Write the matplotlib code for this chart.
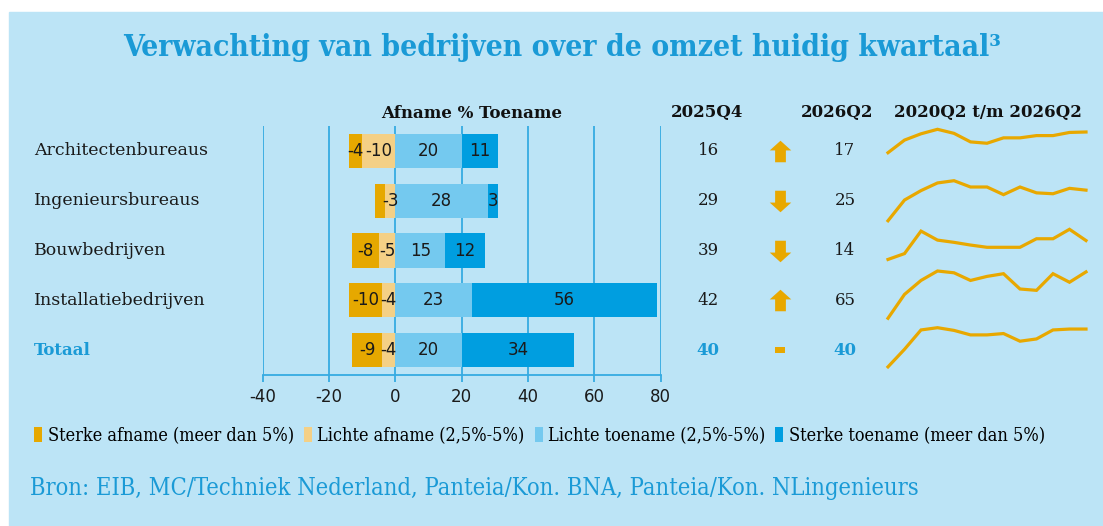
import numpy as np
import matplotlib
matplotlib.use('Agg')
import matplotlib.pyplot as plt
from matplotlib.patches import Rectangle, Patch
from matplotlib.path import Path
import matplotlib.transforms as mtransforms

plt.rcParams['axes.unicode_minus'] = False

# data
categories = ['Architectenbureaus', 'Ingenieursbureaus', 'Bouwbedrijven',
              'Installatiebedrijven', 'Totaal']
sterke_afname = [-4, -3, -8, -10, -9]
lichte_afname = [-10, -3, -5, -4, -4]
lichte_toename = [20, 28, 15, 23, 20]
sterke_toename = [11, 3, 12, 56, 34]
saldo_2025q4 = [16, 29, 39, 42, 40]
saldo_2026q2 = [17, 25, 14, 65, 40]
# balances 2020Q2 .. 2026Q2 (half-yearly)
spark = [
    [-29, -1, 13, 23, 14, -5, -8, 4, 4, 9, 9, 16, 17],
    [-43, 3, 24, 41, 46, 32, 32, 15, 32, 19, 17, 29, 25],
    [-28, -15, 35, 15, 10, 4, -1, -1, -1, 18, 18, 39, 14],
    [-38, 15, 46, 67, 63, 46, 55, 61, 27, 24, 61, 42, 65],
    [-44, -5, 38, 43, 37, 27, 27, 30, 13, 18, 38, 40, 40],
]
hidden_labels = {('sterke_afname', 1)}
xticks = [-40, -20, 0, 20, 40, 60, 80]
legend_labels = ['Sterke afname (meer dan 5%)', 'Lichte afname (2,5%-5%)',
                 'Lichte toename (2,5%-5%)', 'Sterke toename (meer dan 5%)']

# style
BG = '#bce4f6'
BLUE = '#1a9ad6'
GRID = '#35abe2'
C_SA = '#e6a800'
C_LA = '#f4d086'
C_LT = '#74c9ef'
C_ST = '#009ee0'
SPARK = '#e8a800'
W, H = 1103, 526
SERIF = 'DejaVu Serif'
SANS = 'DejaVu Sans'

fig = plt.figure(figsize=(W / 100, H / 100), dpi=100)
fig.patch.set_facecolor('white')
fig.patches.append(Rectangle((9 / W, 0), 1 - 9 / W, 1 - 12 / H,
                             transform=fig.transFigure, color=BG, zorder=-10))

def fx(px):
    return px / W

def fy(py):
    return 1 - py / H

ax = fig.add_axes([fx(262.7), fy(375), fx(660.7) - fx(262.7), fy(126) - fy(375)])
ax.set_facecolor('none')
y = np.arange(len(categories))
bh = 0.69

ax.barh(y, lichte_afname, height=bh, color=C_LA, zorder=3)
ax.barh(y, sterke_afname, left=lichte_afname, height=bh, color=C_SA, zorder=3)
ax.barh(y, lichte_toename, height=bh, color=C_LT, zorder=3)
ax.barh(y, sterke_toename, left=lichte_toename, height=bh, color=C_ST, zorder=3)

segments = [
    ('lichte_afname', lichte_afname, [0] * len(y)),
    ('sterke_afname', sterke_afname, lichte_afname),
    ('lichte_toename', lichte_toename, [0] * len(y)),
    ('sterke_toename', sterke_toename, lichte_toename),
]
for name, vals, lefts in segments:
    for i, (v, l) in enumerate(zip(vals, lefts)):
        if (name, i) in hidden_labels:
            continue
        ax.text(l + v / 2, i, f'{v}', ha='center', va='center',
                fontsize=12, family=SANS, color='#1a1a1a', zorder=5)

ax.set_xlim(-40, 80)
ax.set_ylim(len(categories) - 0.5, -0.5)
ax.set_xticks(xticks)
ax.set_yticks([])
ax.grid(axis='x', color=GRID, linewidth=1.3, zorder=1)
for s in ['top', 'right', 'left']:
    ax.spines[s].set_visible(False)
ax.spines['bottom'].set_color(GRID)
ax.spines['bottom'].set_linewidth(1.3)
ax.tick_params(axis='x', colors=GRID, length=5, width=1.3, labelsize=12,
               labelcolor='#1a1a1a', pad=4)

# texts in rows
trans = mtransforms.blended_transform_factory(fig.transFigure, ax.transData)
for i, cat in enumerate(categories):
    last = i == len(categories) - 1
    col = BLUE if last else '#1a1a1a'
    ax.text(fx(34), i, cat, transform=trans, ha='left', va='center',
            fontsize=12.5 if not last else 12, family=SERIF, color=col,
            fontweight='bold' if last else 'normal', clip_on=False)
    ax.text(fx(708), i, f'{saldo_2025q4[i]}', transform=trans, ha='center',
            va='center', fontsize=12, family=SERIF, color=col, clip_on=False,
            fontweight='bold' if last else 'normal')
    ax.text(fx(845), i, f'{saldo_2026q2[i]}', transform=trans, ha='center',
            va='center', fontsize=12, family=SERIF, color=col, clip_on=False,
            fontweight='bold' if last else 'normal')

# arrows
up = Path([(0, 1), (1, 0.1), (0.5, 0.1), (0.5, -1), (-0.5, -1), (-0.5, 0.1),
           (-1, 0.1), (0, 1)], closed=True)
down = Path([(x, -yy) for x, yy in up.vertices], closed=True)
dash = Path([(-1, -0.6), (1, -0.6), (1, 0.6), (-1, 0.6), (-1, -0.6)], closed=True)
for i in range(len(categories)):
    d = np.sign(saldo_2026q2[i] - saldo_2025q4[i])
    m, ms = (up, 15.5) if d > 0 else (down, 15.5) if d < 0 else (dash, 6.5)
    ax.plot([fx(780)], [i], marker=m, markersize=ms, color=SPARK, linestyle='none',
            transform=trans, clip_on=False, markeredgewidth=0)

# headers
hdr_y = fy(113)
fig.text(fx(472), hdr_y, 'Afname % Toename', ha='center', va='center',
         fontsize=12, family=SERIF, fontweight='bold', color='#111111')
fig.text(fx(707), hdr_y, '2025Q4', ha='center', va='center',
         fontsize=12, family=SERIF, fontweight='bold', color='#111111')
fig.text(fx(837), hdr_y, '2026Q2', ha='center', va='center',
         fontsize=12, family=SERIF, fontweight='bold', color='#111111')
fig.text(fx(988), hdr_y, '2020Q2 t/m 2026Q2', ha='center', va='center',
         fontsize=12, family=SERIF, fontweight='bold', color='#111111')

# sparklines
spark_top = [129.3, 180.7, 229.3, 271, 327.7]
px_per_unit = 0.45
for i, vals in enumerate(spark):
    vals = np.array(vals)
    hpx = (vals.max() - vals.min()) * px_per_unit
    sax = fig.add_axes([fx(888), fy(spark_top[i] + hpx), fx(1086) - fx(888), hpx / H])
    sax.plot(np.arange(len(vals)), vals, color=SPARK, linewidth=2.3,
             solid_joinstyle='miter', clip_on=False)
    sax.set_xlim(0, len(vals) - 1)
    sax.set_ylim(vals.min(), vals.max())
    sax.axis('off')

# title
fig.text(fx(562), fy(48), 'Verwachting van bedrijven over de omzet huidig kwartaal³',
         ha='center', va='center', fontsize=21.5, family=SERIF, fontstretch='condensed',
         fontweight='bold', color=BLUE)

# legend
handles = [Patch(facecolor=c, edgecolor='none') for c in [C_SA, C_LA, C_LT, C_ST]]
fig.legend(handles, legend_labels, loc='center left', bbox_to_anchor=(fx(27), fy(436)),
           ncol=4, frameon=False, handlelength=0.45, handleheight=0.9,
           handletextpad=0.3, columnspacing=0.55, borderaxespad=0,
           prop={'family': SERIF, 'stretch': 'condensed', 'size': 13})

fig.text(fx(30), fy(488), 'Bron: EIB, MC/Techniek Nederland, Panteia/Kon. BNA, Panteia/Kon. NLingenieurs',
         ha='left', va='center', fontsize=17, family=SERIF, fontstretch='condensed',
         color=BLUE)

fig.savefig('out.png', dpi=100, facecolor=fig.get_facecolor())
